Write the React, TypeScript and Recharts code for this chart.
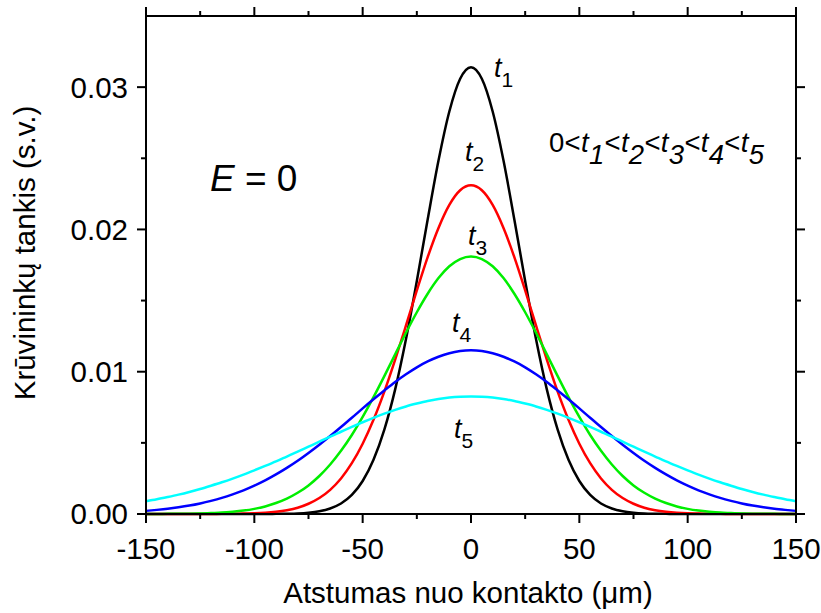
import React from 'react';
import { LineChart, Line, XAxis, YAxis, Customized } from 'recharts';

const FONT = '"Liberation Sans", Arial, Helvetica, sans-serif';

// distance from contact (µm)
const positions = [
  -150, -145, -140, -135, -130, -125, -120, -115, -110, -105, -100, -95, -90, -85, -80, -75, -70, -65, -60, -55, -50,
  -45, -40, -35, -30, -25, -20, -15, -10, -5, 0, 5, 10, 15, 20, 25, 30, 35, 40, 45, 50, 55, 60, 65, 70, 75, 80, 85,
  90, 95, 100, 105, 110, 115, 120, 125, 130, 135, 140, 145, 150,
];

const densityT1 = [
  0, 0, 0, 0, 0, 0, 0, 0, 0, 0, 0, 0,
  0.00001, 0.00002, 0.00004, 0.00009, 0.00019, 0.00039, 0.00074, 0.00134, 0.00232, 0.00381, 0.00593, 0.00876, 0.0123,
  0.01638, 0.0207, 0.02484, 0.02829, 0.03059,
  0.0314,
  0.03059, 0.02829, 0.02484, 0.0207, 0.01638, 0.0123, 0.00876, 0.00593, 0.00381, 0.00232, 0.00134, 0.00074, 0.00039,
  0.00019, 0.00009, 0.00004, 0.00002, 0.00001,
  0, 0, 0, 0, 0, 0, 0, 0, 0, 0, 0, 0,
];

const densityT2 = [
  0, 0, 0, 0, 0, 0, 0,
  0.00001, 0.00001, 0.00003, 0.00005, 0.00009, 0.00016, 0.00027, 0.00044, 0.00072, 0.00112, 0.0017, 0.0025, 0.00357,
  0.00494, 0.00662, 0.0086, 0.01085, 0.01325, 0.01571, 0.01805, 0.0201, 0.02172, 0.02275,
  0.0231,
  0.02275, 0.02172, 0.0201, 0.01805, 0.01571, 0.01325, 0.01085, 0.0086, 0.00662, 0.00494, 0.00357, 0.0025, 0.0017,
  0.00112, 0.00072, 0.00044, 0.00027, 0.00016, 0.00009, 0.00005, 0.00003, 0.00001, 0.00001,
  0, 0, 0, 0, 0, 0, 0,
];

const densityT3 = [
  0, 0, 0.00001, 0.00001, 0.00002, 0.00004, 0.00007, 0.0001, 0.00016, 0.00024, 0.00036, 0.00053, 0.00077, 0.00108,
  0.00149, 0.00201, 0.00267, 0.00348, 0.00444, 0.00555, 0.00682, 0.00821, 0.00969, 0.01122, 0.01274, 0.01418, 0.01548,
  0.01658, 0.01741, 0.01792,
  0.0181,
  0.01792, 0.01741, 0.01658, 0.01548, 0.01418, 0.01274, 0.01122, 0.00969, 0.00821, 0.00682, 0.00555, 0.00444, 0.00348,
  0.00267, 0.00201, 0.00149, 0.00108, 0.00077, 0.00053, 0.00036, 0.00024, 0.00016, 0.0001, 0.00007, 0.00004, 0.00002,
  0.00001, 0.00001, 0, 0,
];

const densityT4 = [
  0.00022, 0.00029, 0.00037, 0.00047, 0.00059, 0.00074, 0.00092, 0.00113, 0.00138, 0.00166, 0.00199, 0.00236, 0.00278,
  0.00324, 0.00374, 0.00429, 0.00487, 0.00548, 0.00612, 0.00676, 0.00742, 0.00806, 0.00868, 0.00928, 0.00982, 0.01031,
  0.01072, 0.01105, 0.0113, 0.01145,
  0.0115,
  0.01145, 0.0113, 0.01105, 0.01072, 0.01031, 0.00982, 0.00928, 0.00868, 0.00806, 0.00742, 0.00676, 0.00612, 0.00548,
  0.00487, 0.00429, 0.00374, 0.00324, 0.00278, 0.00236, 0.00199, 0.00166, 0.00138, 0.00113, 0.00092, 0.00074, 0.00059,
  0.00047, 0.00037, 0.00029, 0.00022,
];

const densityT5 = [
  0.00089, 0.00103, 0.00119, 0.00136, 0.00155, 0.00176, 0.00199, 0.00223, 0.00249, 0.00277, 0.00307, 0.00338, 0.0037,
  0.00404, 0.00438, 0.00473, 0.00508, 0.00544, 0.00578, 0.00612, 0.00645, 0.00676, 0.00705, 0.00732, 0.00756, 0.00776,
  0.00794, 0.00808, 0.00818, 0.00824,
  0.00826,
  0.00824, 0.00818, 0.00808, 0.00794, 0.00776, 0.00756, 0.00732, 0.00705, 0.00676, 0.00645, 0.00612, 0.00578, 0.00544,
  0.00508, 0.00473, 0.00438, 0.00404, 0.0037, 0.00338, 0.00307, 0.00277, 0.00249, 0.00223, 0.00199, 0.00176, 0.00155,
  0.00136, 0.00119, 0.00103, 0.00089,
];

const xTicks = [-150, -125, -100, -75, -50, -25, 0, 25, 50, 75, 100, 125, 150];
const xMajorTicks = [-150, -100, -50, 0, 50, 100, 150];
const yTicks = [0, 0.005, 0.01, 0.015, 0.02, 0.025, 0.03];
const yMajorTicks = [0, 0.01, 0.02, 0.03];
const yTickLabels = ['0.00', '0.01', '0.02', '0.03'];

const seriesKeys = ['t1', 't2', 't3', 't4', 't5'];
const seriesColors = ['#000000', '#ff0000', '#00ee00', '#0000ff', '#00ffff'];
const seriesValues = [densityT1, densityT2, densityT3, densityT4, densityT5];

const data = positions.map((x, i) => {
  const row: Record<string, number> = { x };
  seriesKeys.forEach((k, s) => {
    row[k] = seriesValues[s][i];
  });
  return row;
});

// layout
const CHART_W = 821;
const CHART_H = 613;
const MARGIN = { top: 15, right: 24, bottom: 0, left: 0 };
const PLOT_TOP = MARGIN.top + 1;
const PLOT_RIGHT = CHART_W - MARGIN.right - 1;

const MAJOR = 9;
const MINOR = 5;
const TICK_FONT = 29.5;

const isMajorY = (v: number) => yMajorTicks.some((m) => Math.abs(m - v) < 1e-9);
const yLabel = (v: number) => {
  const idx = yMajorTicks.findIndex((m) => Math.abs(m - v) < 1e-9);
  return idx >= 0 ? yTickLabels[idx] : '';
};

// bottom ticks (+ mirrored top ticks)
const BottomTick = (props: any) => {
  const { x, y, payload } = props;
  const v = payload.value;
  const major = xMajorTicks.includes(v);
  const len = major ? MAJOR : MINOR;
  return (
    <g>
      <line x1={x} x2={x} y1={y} y2={y + len} stroke="#000" strokeWidth={2} />
      <line x1={x} x2={x} y1={PLOT_TOP} y2={PLOT_TOP - len} stroke="#000" strokeWidth={2} />
      {major && (
        <text x={x} y={y + 45} textAnchor="middle" fontSize={TICK_FONT} fontFamily={FONT} fill="#000">
          {String(v)}
        </text>
      )}
    </g>
  );
};

// left ticks (+ mirrored right ticks)
const LeftTick = (props: any) => {
  const { x, y, payload } = props;
  const v = payload.value;
  const major = isMajorY(v);
  const len = major ? MAJOR : MINOR;
  return (
    <g>
      <line x1={x} x2={x - len} y1={y} y2={y} stroke="#000" strokeWidth={2} />
      <line x1={PLOT_RIGHT} x2={PLOT_RIGHT + len} y1={y} y2={y} stroke="#000" strokeWidth={2} />
      {major && (
        <text x={x - 18} y={y} dy="0.355em" textAnchor="end" fontSize={TICK_FONT} fontFamily={FONT} fill="#000">
          {yLabel(v)}
        </text>
      )}
    </g>
  );
};

const curveLabels = [
  { sub: '1', x: 494, y: 77 },
  { sub: '2', x: 465, y: 161 },
  { sub: '3', x: 468, y: 245 },
  { sub: '4', x: 452, y: 332 },
  { sub: '5', x: 454, y: 438 },
];

const Annotations = () => (
  <g fontFamily={FONT} fill="#000">
    <text x={35} y={253} transform="rotate(-90 35 253)" textAnchor="middle" fontSize={29.5}>
      Krūvininkų tankis (s.v.)
    </text>
    <text x={468} y={603} textAnchor="middle" fontSize={29.5}>
      Atstumas nuo kontakto (μm)
    </text>
    <text x={210} y={191} fontSize={37}>
      <tspan fontStyle="italic">E</tspan> = 0
    </text>
    {curveLabels.map((l) => (
      <text key={l.sub} x={l.x} y={l.y} fontSize={27}>
        <tspan fontStyle="italic">t</tspan>
        <tspan fontSize={21} dy={10}>
          {l.sub}
        </tspan>
      </text>
    ))}
    <text x={549} y={152} fontSize={27.5} letterSpacing={0.3}>
      <tspan>0&lt;</tspan>
      <tspan fontStyle="italic">t</tspan>
      <tspan fontStyle="italic" dy={12}>1</tspan>
      <tspan dy={-12}>&lt;</tspan>
      <tspan fontStyle="italic">t</tspan>
      <tspan fontStyle="italic" dy={12}>2</tspan>
      <tspan dy={-12}>&lt;</tspan>
      <tspan fontStyle="italic">t</tspan>
      <tspan fontStyle="italic" dy={12}>3</tspan>
      <tspan dy={-12}>&lt;</tspan>
      <tspan fontStyle="italic">t</tspan>
      <tspan fontStyle="italic" dy={12}>4</tspan>
      <tspan dy={-12}>&lt;</tspan>
      <tspan fontStyle="italic">t</tspan>
      <tspan fontStyle="italic" dy={12}>5</tspan>
    </text>
  </g>
);

const axisLine = { stroke: '#000', strokeWidth: 2 };

export default function App() {
  return (
    <div style={{ position: 'absolute', left: 0, top: 0, width: CHART_W, height: CHART_H, background: '#fff' }}>
      <LineChart width={CHART_W} height={CHART_H} data={data} margin={MARGIN}>
        <XAxis
          dataKey="x"
          type="number"
          domain={[-150, 150]}
          ticks={xTicks}
          interval={0}
          height={99}
          tickSize={0}
          tickMargin={0}
          tickLine={false}
          axisLine={axisLine}
          tick={<BottomTick />}
        />
        <XAxis
          xAxisId="top"
          orientation="top"
          dataKey="x"
          type="number"
          domain={[-150, 150]}
          ticks={xTicks}
          interval={0}
          height={1}
          tickLine={false}
          axisLine={axisLine}
          tick={false}
        />
        <YAxis
          type="number"
          domain={[0, 0.035]}
          ticks={yTicks}
          interval={0}
          width={146}
          tickSize={0}
          tickMargin={0}
          tickLine={false}
          axisLine={axisLine}
          tick={<LeftTick />}
        />
        <YAxis
          yAxisId="right"
          orientation="right"
          type="number"
          domain={[0, 0.035]}
          ticks={yTicks}
          interval={0}
          width={1}
          tickLine={false}
          axisLine={axisLine}
          tick={false}
        />
        {seriesKeys.map((k, s) => (
          <Line
            key={k}
            dataKey={k}
            type="monotone"
            stroke={seriesColors[s]}
            strokeWidth={2.5}
            dot={false}
            activeDot={false}
            isAnimationActive={false}
          />
        ))}
        <Customized component={Annotations} />
      </LineChart>
    </div>
  );
}
